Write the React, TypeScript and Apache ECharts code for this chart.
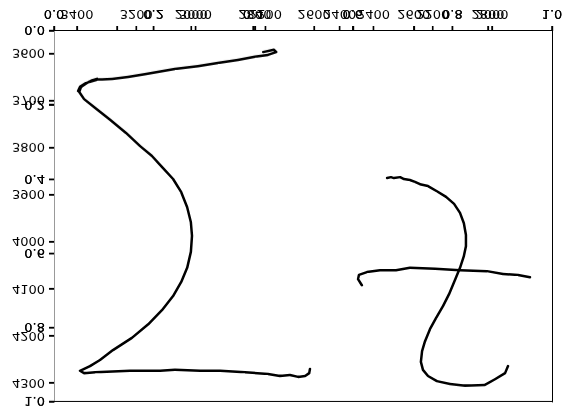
import React, { useEffect, useRef } from "react";
import * as echarts from "echarts";

// ---- data ----
const UNIT_TICKS = [0, 0.2, 0.4, 0.6, 0.8, 1.0];
const Q_TICKS = [1800, 2000, 2200, 2400, 2600, 2800];
const Q_LABELS = [2000, 2200, 2400, 2600, 2800];
const P_TICKS = [2000, 2200, 2400, 2600, 2800, 3000, 3200, 3400];
const DEPTH_TICKS = [3600, 3700, 3800, 3900, 4000, 4100, 4200, 4300];

const Q_RANGE = [1630, 2972.5];
const P_RANGE = [1797.7, 3477.6];
const DEPTH_RANGE = [3551.1, 4340.4];

// left curve (value on Q axis, depth)
const curveA: number[][] = [
  [2194, 3596], [2223, 3591], [2229, 3596], [2207, 3602], [2172, 3606], [2126, 3613],
  [2072, 3619], [2018, 3626], [1956, 3632], [1875, 3643], [1830, 3649], [1787, 3653],
  [1746, 3655], [1716, 3662], [1700, 3670], [1695, 3679], [1708, 3666], [1730, 3657],
  [1746, 3653], [1722, 3660], [1703, 3670], [1698, 3681], [1711, 3696], [1741, 3715],
  [1781, 3740], [1824, 3768], [1862, 3796], [1894, 3817], [1924, 3843], [1951, 3866],
  [1973, 3894], [1989, 3926], [1999, 3958], [2002, 3987], [1999, 4021], [1989, 4055],
  [1973, 4085], [1951, 4115], [1921, 4145], [1884, 4175], [1840, 4204], [1789, 4230],
  [1754, 4251], [1727, 4264], [1700, 4274], [1711, 4279], [1741, 4277], [1835, 4274],
  [1916, 4274], [1956, 4272], [2024, 4274], [2078, 4274], [2145, 4277], [2207, 4281],
  [2239, 4285], [2266, 4283], [2288, 4287], [2307, 4285], [2318, 4279], [2320, 4270],
];

// right curve (value on P axis, depth)
const curveB: number[][] = [
  [2354, 3864], [2341, 3862], [2331, 3864], [2310, 3862], [2297, 3866], [2277, 3868],
  [2260, 3872], [2243, 3877], [2216, 3881], [2186, 3892], [2155, 3904], [2128, 3919],
  [2108, 3938], [2095, 3960], [2088, 3985], [2088, 4009], [2095, 4030], [2108, 4055],
  [2125, 4081], [2145, 4111], [2165, 4136], [2189, 4162], [2209, 4185], [2226, 4211],
  [2236, 4232], [2240, 4255], [2233, 4272], [2216, 4285], [2186, 4296], [2142, 4302],
  [2091, 4306], [2024, 4304], [1990, 4292], [1956, 4279], [1946, 4264],
];

// crossing branch (value on P axis, depth)
const curveC: number[][] = [
  [2439, 4092], [2452, 4079], [2449, 4070], [2422, 4064], [2378, 4060], [2324, 4060],
  [2277, 4055], [2192, 4057], [2108, 4060], [2017, 4062], [1963, 4068], [1912, 4070],
  [1872, 4075],
];

const FONT = { fontFamily: "DejaVu Sans", fontSize: 13, color: "#000" };
const f1 = (v: number) => v.toFixed(1);
const f0 = (v: number) => String(Math.round(v));

function unitAxis(pos: string, lineColor: string) {
  return {
    type: "value",
    min: 0,
    max: 1,
    interval: 0.2,
    position: pos,
    splitLine: { show: false },
    axisLine: { show: true, onZero: false, lineStyle: { color: lineColor, width: 1 } },
    axisTick: { show: true, length: 5, lineStyle: { color: "#000", width: 1.2 } },
    axisLabel: { ...FONT, margin: pos === "bottom" ? 10 : 9, formatter: f1 },
  };
}

function dataAxis(pos: string, range: number[], ticks: number[], labels: number[], extra: any = {}) {
  return {
    type: "value",
    min: range[0],
    max: range[1],
    position: pos,
    splitLine: { show: false },
    axisLine: { show: true, onZero: false, lineStyle: { color: pos === "bottom" ? "#000" : "#999", width: 1 } },
    axisTick: { show: true, length: 5, customValues: ticks, lineStyle: { color: "#000", width: 1.2 } },
    axisLabel: { ...FONT, margin: pos === "bottom" ? 10 : 9, customValues: labels, formatter: f0 },
    ...extra,
  };
}

function frameAxis(pos: string) {
  return {
    type: "value",
    min: 0,
    max: 1,
    position: pos,
    splitLine: { show: false },
    axisLine: { show: true, onZero: false, lineStyle: { color: "#000", width: 1 } },
    axisTick: { show: false },
    axisLabel: { show: false },
  };
}

// tick marks drawn through the axes' own scales (outside the plot frame)
function xTicks(ticks: number[], xAxisIndex: number) {
  return {
    type: "scatter",
    xAxisIndex,
    yAxisIndex: 0,
    clip: false,
    silent: true,
    z: 10,
    symbol: "rect",
    symbolSize: [1.5, 5],
    symbolOffset: [0, 2.5],
    itemStyle: { color: "#000", opacity: 1 },
    emphasis: { disabled: true },
    data: ticks.map((v) => [v, 0]),
  };
}

function yTicks(ticks: number[], yAxisIndex: number) {
  return {
    type: "scatter",
    xAxisIndex: 0,
    yAxisIndex,
    clip: false,
    silent: true,
    z: 10,
    symbol: "rect",
    symbolSize: [5, 1.5],
    symbolOffset: [-2.5, 0],
    itemStyle: { color: "#000", opacity: 1 },
    emphasis: { disabled: true },
    data: ticks.map((v) => [0, v]),
  };
}

export default function App() {
  const ref = useRef<HTMLDivElement>(null);
  useEffect(() => {
    const chart = echarts.init(ref.current!, null, { renderer: "svg" });
    const lines = [
      { data: curveA, xAxisIndex: 2 },
      { data: curveB, xAxisIndex: 3 },
      { data: curveC, xAxisIndex: 3 },
    ].map((s) => ({
      type: "line",
      yAxisIndex: 2,
      showSymbol: false,
      symbol: "none",
      lineStyle: { color: "#000", width: 2.5, cap: "round", join: "round" },
      ...s,
    }));
    const option: any = {
      animation: false,
      grid: { left: 54, right: 20, top: 16, bottom: 31 },
      xAxis: [
        unitAxis("bottom", "#000"),
        unitAxis("bottom", "#000"),
        dataAxis("bottom", Q_RANGE, Q_TICKS, Q_LABELS),
        dataAxis("bottom", P_RANGE, P_TICKS, P_TICKS, { inverse: true }),
        frameAxis("top"),
      ],
      yAxis: [
        unitAxis("left", "#999"),
        unitAxis("left", "#999"),
        dataAxis("left", DEPTH_RANGE, DEPTH_TICKS, DEPTH_TICKS),
        frameAxis("right"),
      ],
      series: [
        ...lines,
        xTicks(UNIT_TICKS, 0),
        xTicks(Q_TICKS, 2),
        xTicks(P_TICKS, 3),
        yTicks(UNIT_TICKS, 0),
        yTicks(DEPTH_TICKS, 2),
      ],
    };
    chart.setOption(option);
    return () => chart.dispose();
  }, []);
  return (
    <div
      ref={ref}
      style={{
        position: "fixed",
        left: 0,
        top: 0,
        width: 572,
        height: 418,
        transform: "scaleY(-1)",
        background: "#fff",
      }}
    />
  );
}
